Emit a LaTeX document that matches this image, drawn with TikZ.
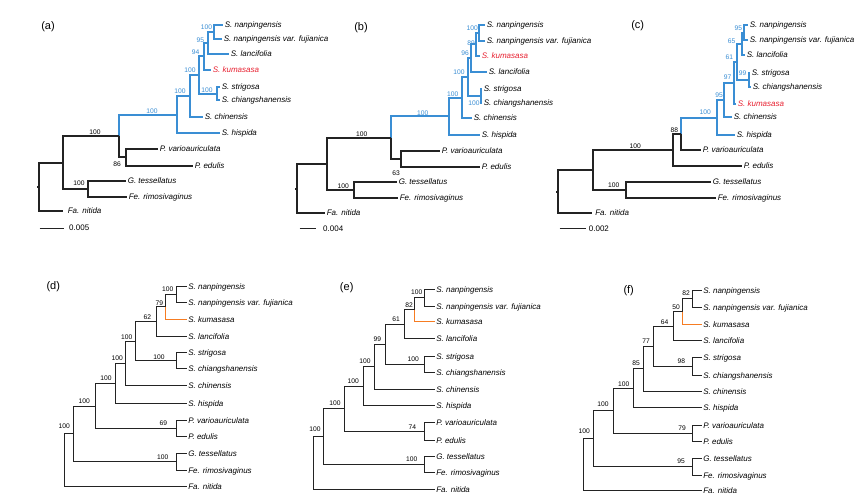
\documentclass[tikz,border=0pt]{standalone}
\usepackage{fontspec}
\setmainfont{Liberation Sans}
\definecolor{tblue}{RGB}{58,142,212}
\definecolor{tred}{RGB}{232,32,48}
\definecolor{torange}{RGB}{246,124,34}
\definecolor{tdark}{RGB}{35,35,35}
\newcommand\tcoord[3]{\coordinate (#1) at ({floor(#2)+0.5},{floor(#3)+0.5});}
\newcommand\tcA[3]{\coordinate (#1) at ({round(#2)},{round(#3)});}
\begin{document}
\begin{tikzpicture}[x=1pt,y=-1pt,
  brA/.style={draw=tdark,line width=1.8pt},
  brAb/.style={draw=tblue,line width=1.8pt},
  brD/.style={draw=tdark,line width=1.2pt},
  brDo/.style={draw=torange,line width=1.4pt},
  tip/.style={anchor=base west,inner sep=0pt,xshift=1.6pt,yshift=-2.9pt,font=\fontsize{8}{9}\selectfont\itshape,text=black},
  tipred/.style={tip,text=tred},
  bs/.style={inner sep=0pt,font=\fontsize{6.7}{7}\selectfont,text=black},
  bsb/.style={bs,text=tblue},
  panel/.style={inner sep=0pt,font=\fontsize{11}{12}\selectfont},
  sc/.style={anchor=west,inner sep=0pt,font=\fontsize{8}{9}\selectfont},
  scbar/.style={draw=tdark,line width=1pt}
]
\useasboundingbox (0,0) rectangle (867,499);
\fill[white] (0,0) rectangle (867,499);

% ================= (a) =================
\node[panel] (pa) at (48,27) {(a)};
\tcA{aN1}{214}{31.5}
\tcA{aN2}{208.3}{42.75}
\tcA{aN3}{203.5}{56.4}
\tcA{aN4}{217}{93.7}
\tcA{aN5}{199.3}{75}
\tcA{aN6}{190}{96}
\tcA{aN7}{176.7}{114.5}
\tcA{aN8}{126}{157.3}
\tcA{aN9}{119.3}{135.9}
\tcA{aN10}{88.3}{189}
\tcA{aN11}{63.3}{162.5}
\tcA{aR}{39.3}{186.7}
\tcA{aT1}{222.7}{24.5}
\tcA{aT2}{222}{38.5}
\tcA{aT3}{229.3}{54}
\tcA{aT4}{210.7}{70}
\tcA{aT5}{220}{87.3}
\tcA{aT6}{220}{100}
\tcA{aT7}{203}{117}
\tcA{aT8}{220}{133}
\tcA{aT9}{158}{149}
\tcA{aT10}{193}{166}
\tcA{aT11}{126}{181}
\tcA{aT12}{126.5}{197}
\tcA{aT13}{63}{211}
\draw[brAb] (aN9) |- (aN7) (aN7) |- (aN6) (aN7) |- (aT8) (aN6) |- (aN5) (aN6) |- (aT7)
  (aN5) |- (aN3) (aN5) |- (aN4) (aN4) |- (aT5) (aN4) |- (aT6) (aN3) |- (aN2) (aN3) |- (aT4)
  (aN2) |- (aN1) (aN2) |- (aT3) (aN1) |- (aT1) (aN1) |- (aT2);
\draw[brA] (aN9) |- (aN8) (aN8) |- (aT9) (aN8) |- (aT10) (aN11) |- (aN9) (aN11) |- (aN10)
  (aN10) |- (aT11) (aN10) |- (aT12) (aR) |- (aN11) (aR) |- (aT13) (aR) -- ++(-2.5,0);
\node[tip] (aL1) at (aT1) {S. nanpingensis};
\node[tip] (aL2) at (aT2) {S. nanpingensis var. fujianica};
\node[tip] (aL3) at (aT3) {S. lancifolia};
\node[tipred] (aL4) at (aT4) {S. kumasasa};
\node[tip] (aL5) at (aT5) {S. strigosa};
\node[tip] (aL6) at (aT6) {S. chiangshanensis};
\node[tip] (aL7) at (aT7) {S. chinensis};
\node[tip] (aL8) at (aT8) {S. hispida};
\node[tip] (aL9) at (aT9) {P. varioauriculata};
\node[tip] (aL10) at (aT10) {P. edulis};
\node[tip] (aL11) at (aT11) {G. tessellatus};
\node[tip] (aL12) at (aT12) {Fe. rimosivaginus};
\node[tip,xshift=3pt] (aL13) at (aT13) {Fa. nitida};
\node[bsb] (aB1) at (206.5,27.3) {100};
\node[bsb] (aB2) at (200.3,40) {95};
\node[bsb] (aB3) at (195.5,52) {94};
\node[bsb] (aB4) at (190,70.5) {100};
\node[bsb] (aB5) at (207,90) {100};
\node[bsb] (aB6) at (180,91) {100};
\node[bsb] (aB7) at (152,111) {100};
\node[bs] (aB8) at (95,132) {100};
\node[bs] (aB9) at (117,164) {86};
\node[bs] (aB10) at (79,183) {100};
\tcoord{aS1}{39.3}{228}
\tcoord{aS2}{63}{228}
\draw[scbar] (aS1) -- (aS2);
\node[sc] (aSL) at (69,228) {0.005};

% ================= (b) =================
\node[panel] (pb) at (361,28) {(b)};
\tcA{bN1}{479.3}{32.75}
\tcA{bN2}{476}{44.4}
\tcA{bN3}{471}{58}
\tcA{bN4}{480.7}{96.3}
\tcA{bN5}{467.7}{77.2}
\tcA{bN6}{461.7}{97.7}
\tcA{bN7}{448.7}{116.4}
\tcA{bN8}{400.7}{158.7}
\tcA{bN9}{391}{137.5}
\tcA{bN10}{354.3}{190.3}
\tcA{bN11}{326.7}{164}
\tcA{bR}{297.3}{188.7}
\tcA{bT1}{485}{25}
\tcA{bT2}{485}{40.5}
\tcA{bT3}{480}{56}
\tcA{bT4}{486.7}{71.7}
\tcA{bT5}{482}{89.3}
\tcA{bT6}{482}{103.3}
\tcA{bT7}{471.7}{118.3}
\tcA{bT8}{480}{135}
\tcA{bT9}{440}{150.7}
\tcA{bT10}{480}{166.7}
\tcA{bT11}{396.7}{182.3}
\tcA{bT12}{398.3}{198.3}
\tcA{bT13}{325}{213.3}
\draw[brAb] (bN9) |- (bN7) (bN7) |- (bN6) (bN7) |- (bT8) (bN6) |- (bN5) (bN6) |- (bT7)
  (bN5) |- (bN3) (bN5) |- (bN4) (bN4) |- (bT5) (bN4) |- (bT6) (bN3) |- (bN2) (bN3) |- (bT4)
  (bN2) |- (bN1) (bN2) |- (bT3) (bN1) |- (bT1) (bN1) |- (bT2);
\draw[brA] (bN9) |- (bN8) (bN8) |- (bT9) (bN8) |- (bT10) (bN11) |- (bN9) (bN11) |- (bN10)
  (bN10) |- (bT11) (bN10) |- (bT12) (bR) |- (bN11) (bR) |- (bT13) (bR) -- ++(-2.5,0);
\node[tip] (bL1) at (bT1) {S. nanpingensis};
\node[tip] (bL2) at (bT2) {S. nanpingensis var. fujianica};
\node[tipred] (bL3) at (bT3) {S. kumasasa};
\node[tip] (bL4) at (bT4) {S. lancifolia};
\node[tip] (bL5) at (bT5) {S. strigosa};
\node[tip] (bL6) at (bT6) {S. chiangshanensis};
\node[tip] (bL7) at (bT7) {S. chinensis};
\node[tip] (bL8) at (bT8) {S. hispida};
\node[tip] (bL9) at (bT9) {P. varioauriculata};
\node[tip] (bL10) at (bT10) {P. edulis};
\node[tip] (bL11) at (bT11) {G. tessellatus};
\node[tip] (bL12) at (bT12) {Fe. rimosivaginus};
\node[tip] (bL13) at (bT13) {Fa. nitida};
\node[bsb] (bB1) at (472.3,28.3) {100};
\node[bsb] (bB2) at (471.2,42.7) {89};
\node[bsb] (bB3) at (465,53.3) {96};
\node[bsb] (bB4) at (459,71.7) {100};
\node[bsb] (bB5) at (474,103.3) {100};
\node[bsb] (bB6) at (452.7,94) {100};
\node[bsb] (bB7) at (422.7,112.7) {100};
\node[bs] (bB8) at (361.7,134.3) {100};
\node[bs] (bB9) at (396,173.3) {63};
\node[bs] (bB10) at (343.3,185.7) {100};
\tcoord{bS1}{299}{228.7}
\tcoord{bS2}{315}{228.7}
\draw[scbar] (bS1) -- (bS2);
\node[sc] (bSL) at (323,228.7) {0.004};

% ================= (c) =================
\node[panel] (pc) at (637.7,26) {(c)};
\tcA{cN1}{744.3}{32.5}
\tcA{cN2}{741.7}{43.75}
\tcA{cN3}{749.3}{80}
\tcA{cN4}{737.3}{61.9}
\tcA{cN5}{733.7}{83}
\tcA{cN6}{724.3}{100.1}
\tcA{cN7}{717}{117.6}
\tcA{cN8}{681.3}{133.6}
\tcA{cN9}{672.7}{149.7}
\tcA{cN10}{626}{190.2}
\tcA{cN11}{593}{170}
\tcA{cR}{558.3}{191.6}
\tcA{cT1}{747.7}{25}
\tcA{cT2}{748.3}{40}
\tcA{cT3}{745}{55}
\tcA{cT4}{750}{72.7}
\tcA{cT5}{751}{87.3}
\tcA{cT6}{735.5}{104}
\tcA{cT7}{732}{117.3}
\tcA{cT8}{735}{135}
\tcA{cT9}{701}{149.7}
\tcA{cT10}{742}{165.7}
\tcA{cT11}{711}{182.3}
\tcA{cT12}{716.3}{198}
\tcA{cT13}{592}{213.3}
\draw[brAb] (cN8) |- (cN7) (cN7) |- (cN6) (cN7) |- (cT8) (cN6) |- (cN5) (cN6) |- (cT7)
  (cN5) |- (cN4) (cN5) |- (cT6) (cN4) |- (cN2) (cN4) |- (cN3) (cN3) |- (cT4) (cN3) |- (cT5)
  (cN2) |- (cN1) (cN2) |- (cT3) (cN1) |- (cT1) (cN1) |- (cT2);
\draw[brA] (cN8) |- (cT9) (cN9) |- (cN8) (cN9) |- (cT10) (cN11) |- (cN9) (cN11) |- (cN10)
  (cN10) |- (cT11) (cN10) |- (cT12) (cR) |- (cN11) (cR) |- (cT13) (cR) -- ++(-2.5,0);
\node[tip] (cL1) at (cT1) {S. nanpingensis};
\node[tip] (cL2) at (cT2) {S. nanpingensis var. fujianica};
\node[tip] (cL3) at (cT3) {S. lancifolia};
\node[tip] (cL4) at (cT4) {S. strigosa};
\node[tip] (cL5) at (cT5) {S. chiangshanensis};
\node[tipred] (cL6) at (cT6) {S. kumasasa};
\node[tip] (cL7) at (cT7) {S. chinensis};
\node[tip] (cL8) at (cT8) {S. hispida};
\node[tip] (cL9) at (cT9) {P. varioauriculata};
\node[tip] (cL10) at (cT10) {P. edulis};
\node[tip] (cL11) at (cT11) {G. tessellatus};
\node[tip] (cL12) at (cT12) {Fe. rimosivaginus};
\node[tip,xshift=1.5pt] (cL13) at (cT13) {Fa. nitida};
\node[bsb] (cB1) at (738.3,27.7) {95};
\node[bsb] (cB2) at (731.7,41) {65};
\node[bsb] (cB3) at (729.3,57.3) {61};
\node[bsb] (cB4) at (742.7,73.3) {99};
\node[bsb] (cB5) at (727.7,76.7) {97};
\node[bsb] (cB6) at (719,95) {95};
\node[bsb] (cB7) at (705.3,112.3) {100};
\node[bs] (cB8) at (674.3,130) {88};
\node[bs] (cB9) at (635.3,145.7) {100};
\node[bs] (cB10) at (613.7,185) {100};
\tcoord{cS1}{559.3}{228.7}
\tcoord{cS2}{585.3}{228.7}
\draw[scbar] (cS1) -- (cS2);
\node[sc] (cSL) at (588.7,228.7) {0.002};

% ================= (d) =================
\node[panel] (pd) at (53.3,286.7) {(d)};
\tcoord{dN1}{176.7}{294.2}
\tcoord{dN2}{165.7}{306.7}
\tcoord{dN3}{156}{321.4}
\tcoord{dN4}{176.7}{360.5}
\tcoord{dN5}{135.7}{341}
\tcoord{dN6}{125}{363}
\tcoord{dN7}{115}{383.2}
\tcoord{dN8}{176.7}{428.7}
\tcoord{dN9}{95}{406}
\tcoord{dN10}{176.7}{461.7}
\tcoord{dN11}{73.3}{433.8}
\tcoord{dR}{64}{459.9}
\tcoord{dT1}{186.7}{286}
\tcoord{dT2}{186.7}{302.3}
\tcoord{dT3}{186.7}{319.3}
\tcoord{dT4}{186.7}{336}
\tcoord{dT5}{186.7}{352.7}
\tcoord{dT6}{186.7}{368.3}
\tcoord{dT7}{186.7}{385}
\tcoord{dT8}{186.7}{403.3}
\tcoord{dT9}{186.7}{420.7}
\tcoord{dT10}{186.7}{436.7}
\tcoord{dT11}{186.7}{453.3}
\tcoord{dT12}{186.7}{470}
\tcoord{dT13}{186.7}{486}
\draw[brD] (dN1) |- (dT1) (dN1) |- (dT2) (dN2) |- (dN1) (dN3) |- (dN2) (dN3) |- (dT4)
  (dN5) |- (dN3) (dN5) |- (dN4) (dN4) |- (dT5) (dN4) |- (dT6) (dN6) |- (dN5) (dN6) |- (dT7)
  (dN7) |- (dN6) (dN7) |- (dT8) (dN9) |- (dN7) (dN9) |- (dN8) (dN8) |- (dT9) (dN8) |- (dT10)
  (dN11) |- (dN9) (dN11) |- (dN10) (dN10) |- (dT11) (dN10) |- (dT12) (dR) |- (dN11) (dR) |- (dT13);
\draw[brDo] (dN2) |- (dT3);
\node[tip] (dL1) at (dT1) {S. nanpingensis};
\node[tip] (dL2) at (dT2) {S. nanpingensis var. fujianica};
\node[tip] (dL3) at (dT3) {S. kumasasa};
\node[tip] (dL4) at (dT4) {S. lancifolia};
\node[tip] (dL5) at (dT5) {S. strigosa};
\node[tip] (dL6) at (dT6) {S. chiangshanensis};
\node[tip] (dL7) at (dT7) {S. chinensis};
\node[tip] (dL8) at (dT8) {S. hispida};
\node[tip] (dL9) at (dT9) {P. varioauriculata};
\node[tip] (dL10) at (dT10) {P. edulis};
\node[tip] (dL11) at (dT11) {G. tessellatus};
\node[tip] (dL12) at (dT12) {Fe. rimosivaginus};
\node[tip] (dL13) at (dT13) {Fa. nitida};
\node[bs] (dB1) at (167.7,289.3) {100};
\node[bs] (dB2) at (159.3,302.7) {79};
\node[bs] (dB3) at (147.3,316.7) {62};
\node[bs] (dB4) at (159,356.7) {100};
\node[bs] (dB5) at (126.7,336.7) {100};
\node[bs] (dB6) at (117.3,358.3) {100};
\node[bs] (dB7) at (106,377.7) {100};
\node[bs] (dB8) at (163.3,423.3) {69};
\node[bs] (dB9) at (84.3,400.7) {100};
\node[bs] (dB10) at (162.7,456.7) {100};
\node[bs] (dB11) at (64.3,426.5) {100};

% ================= (e) =================
\node[panel] (pe) at (346.7,287.3) {(e)};
\tcoord{eN1}{424.3}{297.7}
\tcoord{eN2}{414}{309.7}
\tcoord{eN3}{404.3}{324}
\tcoord{eN4}{424.3}{364.2}
\tcoord{eN5}{385}{344.1}
\tcoord{eN6}{374}{366.5}
\tcoord{eN7}{363.3}{386.1}
\tcoord{eN8}{424.3}{431.3}
\tcoord{eN9}{344}{408.7}
\tcoord{eN10}{424.3}{464.3}
\tcoord{eN11}{323.3}{436.5}
\tcoord{eR}{313.3}{462.75}
\tcoord{eT1}{434}{289.3}
\tcoord{eT2}{434}{306}
\tcoord{eT3}{434}{321.7}
\tcoord{eT4}{434}{338.3}
\tcoord{eT5}{434}{356}
\tcoord{eT6}{434}{372.3}
\tcoord{eT7}{434}{389}
\tcoord{eT8}{434}{405.7}
\tcoord{eT9}{434}{422.7}
\tcoord{eT10}{434}{440}
\tcoord{eT11}{434}{456}
\tcoord{eT12}{434}{472.7}
\tcoord{eT13}{434}{489}
\draw[brD] (eN1) |- (eT1) (eN1) |- (eT2) (eN2) |- (eN1) (eN3) |- (eN2) (eN3) |- (eT4)
  (eN5) |- (eN3) (eN5) |- (eN4) (eN4) |- (eT5) (eN4) |- (eT6) (eN6) |- (eN5) (eN6) |- (eT7)
  (eN7) |- (eN6) (eN7) |- (eT8) (eN9) |- (eN7) (eN9) |- (eN8) (eN8) |- (eT9) (eN8) |- (eT10)
  (eN11) |- (eN9) (eN11) |- (eN10) (eN10) |- (eT11) (eN10) |- (eT12) (eR) |- (eN11) (eR) |- (eT13);
\draw[brDo] (eN2) |- (eT3);
\node[tip] (eL1) at (eT1) {S. nanpingensis};
\node[tip] (eL2) at (eT2) {S. nanpingensis var. fujianica};
\node[tip] (eL3) at (eT3) {S. kumasasa};
\node[tip] (eL4) at (eT4) {S. lancifolia};
\node[tip] (eL5) at (eT5) {S. strigosa};
\node[tip] (eL6) at (eT6) {S. chiangshanensis};
\node[tip] (eL7) at (eT7) {S. chinensis};
\node[tip] (eL8) at (eT8) {S. hispida};
\node[tip] (eL9) at (eT9) {P. varioauriculata};
\node[tip] (eL10) at (eT10) {P. edulis};
\node[tip] (eL11) at (eT11) {G. tessellatus};
\node[tip] (eL12) at (eT12) {Fe. rimosivaginus};
\node[tip] (eL13) at (eT13) {Fa. nitida};
\node[bs] (eB1) at (416.7,292.3) {100};
\node[bs] (eB2) at (409,305) {82};
\node[bs] (eB3) at (396,319.3) {61};
\node[bs] (eB4) at (413.3,359) {100};
\node[bs] (eB5) at (377.3,339.3) {99};
\node[bs] (eB6) at (365,360.7) {100};
\node[bs] (eB7) at (353.3,381) {100};
\node[bs] (eB8) at (412.3,426.7) {74};
\node[bs] (eB9) at (335,403.3) {100};
\node[bs] (eB10) at (411.7,459.3) {100};
\node[bs] (eB11) at (315,429.5) {100};

% ================= (f) =================
\node[panel] (pf) at (628.7,290.7) {(f)};
\tcoord{fN1}{692.7}{298.65}
\tcoord{fN2}{682.3}{311.3}
\tcoord{fN3}{673}{326}
\tcoord{fN4}{692.7}{366.35}
\tcoord{fN5}{653.7}{346.2}
\tcoord{fN6}{643.7}{368.6}
\tcoord{fN7}{633}{388.15}
\tcoord{fN8}{692.7}{433}
\tcoord{fN9}{613}{410.6}
\tcoord{fN10}{692.7}{466.65}
\tcoord{fN11}{593}{438.6}
\tcoord{fR}{583.7}{464.65}
\tcoord{fT1}{701.3}{290}
\tcoord{fT2}{701.3}{307.3}
\tcoord{fT3}{701.3}{324}
\tcoord{fT4}{701.3}{340.7}
\tcoord{fT5}{701.3}{357.7}
\tcoord{fT6}{701.3}{375}
\tcoord{fT7}{701.3}{391}
\tcoord{fT8}{701.3}{407.7}
\tcoord{fT9}{701.3}{425}
\tcoord{fT10}{701.3}{441}
\tcoord{fT11}{701.3}{458.3}
\tcoord{fT12}{701.3}{475}
\tcoord{fT13}{701.3}{490.7}
\draw[brD] (fN1) |- (fT1) (fN1) |- (fT2) (fN2) |- (fN1) (fN3) |- (fN2) (fN3) |- (fT4)
  (fN5) |- (fN3) (fN5) |- (fN4) (fN4) |- (fT5) (fN4) |- (fT6) (fN6) |- (fN5) (fN6) |- (fT7)
  (fN7) |- (fN6) (fN7) |- (fT8) (fN9) |- (fN7) (fN9) |- (fN8) (fN8) |- (fT9) (fN8) |- (fT10)
  (fN11) |- (fN9) (fN11) |- (fN10) (fN10) |- (fT11) (fN10) |- (fT12) (fR) |- (fN11) (fR) |- (fT13);
\draw[brDo] (fN2) |- (fT3);
\node[tip] (fL1) at (fT1) {S. nanpingensis};
\node[tip] (fL2) at (fT2) {S. nanpingensis var. fujianica};
\node[tip] (fL3) at (fT3) {S. kumasasa};
\node[tip] (fL4) at (fT4) {S. lancifolia};
\node[tip] (fL5) at (fT5) {S. strigosa};
\node[tip] (fL6) at (fT6) {S. chiangshanensis};
\node[tip] (fL7) at (fT7) {S. chinensis};
\node[tip] (fL8) at (fT8) {S. hispida};
\node[tip] (fL9) at (fT9) {P. varioauriculata};
\node[tip] (fL10) at (fT10) {P. edulis};
\node[tip] (fL11) at (fT11) {G. tessellatus};
\node[tip] (fL12) at (fT12) {Fe. rimosivaginus};
\node[tip] (fL13) at (fT13) {Fa. nitida};
\node[bs] (fB1) at (686,293.3) {82};
\node[bs] (fB2) at (676,306.7) {50};
\node[bs] (fB3) at (664.7,321.7) {64};
\node[bs] (fB4) at (681.3,361) {98};
\node[bs] (fB5) at (646,341) {77};
\node[bs] (fB6) at (636,363.3) {85};
\node[bs] (fB7) at (623.7,384) {100};
\node[bs] (fB8) at (682,427.7) {79};
\node[bs] (fB9) at (603,404) {100};
\node[bs] (fB10) at (681,461) {95};
\node[bs] (fB11) at (584.3,431.5) {100};
\end{tikzpicture}
\end{document}
